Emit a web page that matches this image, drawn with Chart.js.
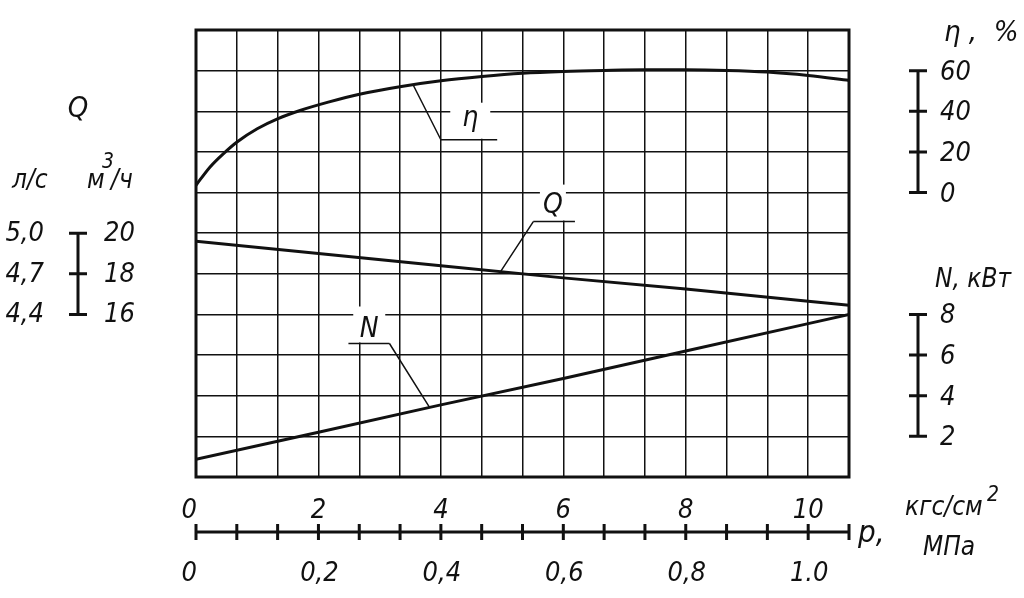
<!DOCTYPE html>
<html>
<head>
<meta charset="utf-8">
<title>Pump characteristic</title>
<script src="https://cdn.jsdelivr.net/npm/chart.js@4.4.1/dist/chart.umd.min.js"></script>
<style>
html, body { margin: 0; padding: 0; background: #fff; }
canvas { display: block; }
</style>
</head>
<body>
<canvas id="pumpChart" width="1024" height="598"></canvas>
<script>
// Pressure p, kgf/cm2 (x axis) and the three curves
const etaPressure = [0, 0.23, 0.45, 0.67, 1, 1.34, 1.7, 2.16, 2.67, 3.33, 4, 4.67, 5.33, 6, 6.67, 7.33, 8, 8.67, 9.33, 10, 10.67];
const etaValues = [3.6, 12.6, 19.2, 24.9, 31.4, 36.4, 40.4, 44.5, 48.4, 52.1, 55.0, 57.1, 58.7, 59.6, 60.1, 60.4, 60.4, 60.1, 59.3, 57.6, 55.2];

const qPressure = [0, 2, 4, 6, 8, 10, 10.67];
const qValues = [19.6, 19.0, 18.4, 17.8, 17.25, 16.65, 16.45];   // m3/h

const nPressure = [0, 2, 4, 6, 8, 10, 10.67];
const nValues = [0.87, 2.2, 3.55, 4.85, 6.2, 7.55, 8.0];         // kW

// Scale labels
const kgfTicks = [0, 2, 4, 6, 8, 10];
const mpaTicks = [0, 0.2, 0.4, 0.6, 0.8, 1.0];
const mpaLabels = ['0', '0,2', '0,4', '0,6', '0,8', '1.0'];
const etaTicks = [0, 20, 40, 60];
const nTicks = [2, 4, 6, 8];
const qTicksM3h = [20, 18, 16];
const qTicksLs = ['5,0', '4,7', '4,4'];

const FONT = '"Liberation Sans Narrow", "DejaVu Sans Condensed", "Liberation Sans", sans-serif';
const INK = '#111';
const GRID_STEP = 2 / 3;   // one grid cell along p, kgf/cm2

function font(size) {
    return 'italic ' + size + 'px ' + FONT;
}

function toPoints(xs, ys) {
    return xs.map((x, i) => ({ x: x, y: ys[i] }));
}

// Leader labels on the curves (data units of their own axis)
const curveLabels = [
    { text: 'η', axis: 'yEta', anchor: [3.55, 52.8], knee: [4.0, 26.0], shelf: [4.0, 4.92], at: [4.48, 32.6], box: 40 },
    { text: 'Q', axis: 'yQ', anchor: [4.98, 18.13], knee: [5.51, 20.57], shelf: [5.51, 6.19], at: [5.83, 21.0], box: 26 },
    { text: 'N', axis: 'yN', anchor: [3.81, 3.45], knee: [3.16, 6.57], shelf: [2.49, 3.16], at: [2.83, 6.9], box: 32 }
];

function drawBar(ctx, xPos, pixels, half) {
    ctx.beginPath();
    ctx.moveTo(xPos, Math.min(...pixels));
    ctx.lineTo(xPos, Math.max(...pixels));
    pixels.forEach(p => {
        ctx.moveTo(xPos - half, p);
        ctx.lineTo(xPos + half, p);
    });
    ctx.stroke();
}

function text(ctx, str, x, y, size, align, baseline) {
    ctx.font = font(size);
    ctx.textAlign = align || 'left';
    ctx.textBaseline = baseline || 'alphabetic';
    ctx.fillText(str, x, y);
}

const sheetPlugin = {
    id: 'sheet',
    afterDatasetsDraw(chart) {
        const { ctx, chartArea: a, scales } = chart;
        const xs = scales.x;
        ctx.save();
        ctx.strokeStyle = INK;
        ctx.fillStyle = INK;
        ctx.lineCap = 'butt';

        // frame
        ctx.lineWidth = 3;
        ctx.strokeRect(a.left, a.top, a.right - a.left, a.bottom - a.top);

        // curve labels with leaders
        curveLabels.forEach(l => {
            const ys = scales[l.axis];
            const ky = ys.getPixelForValue(l.knee[1]);
            const cx = xs.getPixelForValue(l.at[0]);
            ctx.fillStyle = '#fff';
            ctx.fillRect(cx - l.box / 2, ky - 37, l.box, 36);
            ctx.fillStyle = INK;
            ctx.lineWidth = 1.5;
            ctx.beginPath();
            ctx.moveTo(xs.getPixelForValue(l.anchor[0]), ys.getPixelForValue(l.anchor[1]));
            ctx.lineTo(xs.getPixelForValue(l.knee[0]), ky);
            ctx.moveTo(xs.getPixelForValue(l.shelf[0]), ky);
            ctx.lineTo(xs.getPixelForValue(l.shelf[1]), ky);
            ctx.stroke();
            text(ctx, l.text, cx, ys.getPixelForValue(l.at[1]), 28, 'center');
        });

        ctx.lineWidth = 3;

        // right: efficiency scale
        const barRight = a.right + 69;
        drawBar(ctx, barRight, etaTicks.map(v => scales.yEta.getPixelForValue(v)), 9);
        etaTicks.forEach(v => text(ctx, String(v), barRight + 22, scales.yEta.getPixelForValue(v) + 2, 27, 'left', 'middle'));
        text(ctx, 'η ,  %', a.right + 95, 41, 29, 'left');

        // right: power scale
        drawBar(ctx, barRight, nTicks.map(v => scales.yN.getPixelForValue(v)), 9);
        nTicks.forEach(v => text(ctx, String(v), barRight + 22, scales.yN.getPixelForValue(v) + 2, 27, 'left', 'middle'));
        text(ctx, 'N, кВт', a.right + 86, 287, 26, 'left');

        // left: flow scale
        const barLeft = 78;
        drawBar(ctx, barLeft, qTicksM3h.map(v => scales.yQ.getPixelForValue(v)), 9);
        qTicksM3h.forEach((v, i) => {
            const py = scales.yQ.getPixelForValue(v) + 1;
            text(ctx, qTicksLs[i], 44, py, 27, 'right', 'middle');
            text(ctx, String(v), 104, py, 27, 'left', 'middle');
        });
        text(ctx, 'Q', barLeft, 117, 29, 'center');
        text(ctx, 'л/с', 12, 188, 26, 'left');
        text(ctx, 'м', 87, 188, 26, 'left');
        text(ctx, '3', 102, 168, 21, 'left');
        text(ctx, '/ч', 111, 188, 26, 'left');

        // bottom: pressure scale
        const axisY = a.bottom + 55;
        const gridTicks = xs.ticks.map(t => xs.getPixelForValue(t.value));
        ctx.beginPath();
        ctx.moveTo(gridTicks[0], axisY);
        ctx.lineTo(gridTicks[gridTicks.length - 1], axisY);
        gridTicks.forEach(p => {
            ctx.moveTo(p, axisY - 8);
            ctx.lineTo(p, axisY + 8);
        });
        ctx.stroke();
        kgfTicks.forEach((v, i) => {
            const px = xs.getPixelForValue(v);
            if (i === 0) text(ctx, String(v), px + 1, a.bottom + 41, 27, 'right');
            else text(ctx, String(v), px, a.bottom + 41, 27, 'center');
        });
        mpaTicks.forEach((v, i) => {
            const px = xs.getPixelForValue(v * 10);
            if (i === 0) text(ctx, mpaLabels[i], px + 1, a.bottom + 104, 27, 'right');
            else text(ctx, mpaLabels[i], px + 1, a.bottom + 104, 27, 'center');
        });
        text(ctx, 'р,', a.right + 9, axisY + 10, 31, 'left');
        text(ctx, 'кгс/см', a.right + 56, a.bottom + 38, 26, 'left');
        text(ctx, '2', a.right + 138, a.bottom + 24, 21, 'left');
        text(ctx, 'МПа', a.right + 74, a.bottom + 78, 26, 'left');

        ctx.restore();
    }
};

const curveStyle = {
    borderColor: INK,
    borderWidth: 3,
    pointRadius: 0,
    fill: false
};

new Chart(document.getElementById('pumpChart'), {
    type: 'line',
    data: {
        datasets: [
            Object.assign({ label: 'η', data: toPoints(etaPressure, etaValues), yAxisID: 'yEta', cubicInterpolationMode: 'monotone' }, curveStyle),
            Object.assign({ label: 'Q', data: toPoints(qPressure, qValues), yAxisID: 'yQ', tension: 0 }, curveStyle),
            Object.assign({ label: 'N', data: toPoints(nPressure, nValues), yAxisID: 'yN', tension: 0 }, curveStyle)
        ]
    },
    options: {
        responsive: false,
        animation: false,
        devicePixelRatio: 1,
        layout: { padding: { left: 196, right: 175, top: 30, bottom: 121 } },
        plugins: {
            legend: { display: false },
            tooltip: { enabled: false }
        },
        scales: {
            x: {
                type: 'linear',
                min: 0,
                max: 16 * GRID_STEP,
                afterBuildTicks: scale => {
                    scale.ticks = Array.from({ length: 17 }, (_, i) => ({ value: i * GRID_STEP }));
                },
                ticks: { display: false },
                border: { display: false },
                grid: { color: INK, lineWidth: 1.5, drawTicks: false }
            },
            yEta: {
                position: 'left',
                min: -140,
                max: 80,
                ticks: { display: false, stepSize: 20 },
                border: { display: false },
                grid: { color: INK, lineWidth: 1.5, drawTicks: false }
            },
            yQ: { display: false, min: 8, max: 30 },
            yN: { display: false, min: 0, max: 22 }
        }
    },
    plugins: [sheetPlugin]
});
</script>
</body>
</html>
